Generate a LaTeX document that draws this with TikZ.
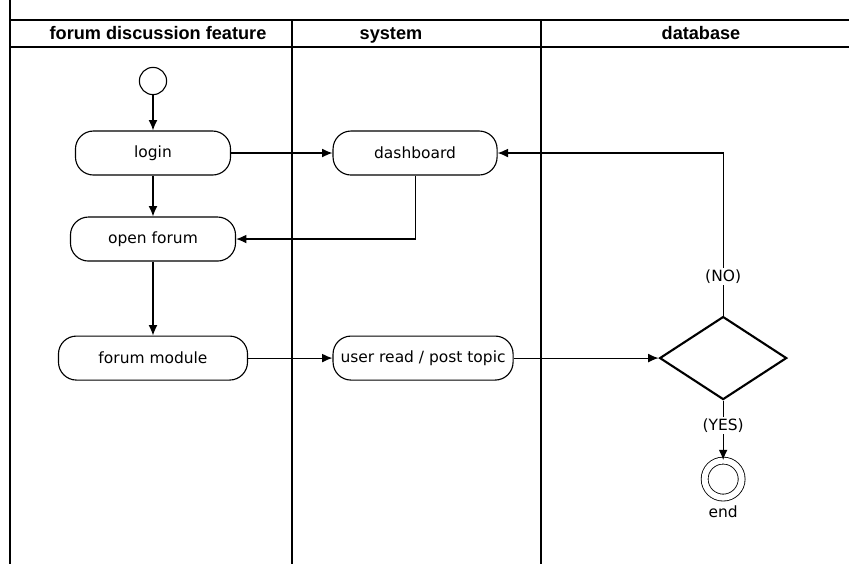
\documentclass[tikz,border=0pt]{standalone}
\usepackage{fontspec}
\setmainfont{DejaVu Sans}
\newfontfamily\headfont{Liberation Sans}
\usetikzlibrary{positioning,shapes.geometric,arrows.meta}

\begin{document}
\begin{tikzpicture} [x=0.025cm, y=-0.025cm, line width=0.8pt,
                    >={Latex[length=2.6mm,width=2.2mm]},
                    activity/.style={draw,rounded corners=0.45cm,minimum height=1.1cm,
                                     inner xsep=2pt,font=\fontsize{11}{13}\selectfont},
                    lanehead/.style={anchor=base,font=\headfont\bfseries\fontsize{12.9}{15}\selectfont},
                    flow/.style={->},
                    guard/.style={fill=white,inner sep=1pt,font=\fontsize{11}{13}\selectfont}]

\useasboundingbox (0,0) rectangle (849,564);

% swimlanes
\draw[line width=1.4pt] (10,0) -- (10,564);
\draw (10,20) -- (849,20);
\draw (10,47) -- (849,47);
\draw (292,20) -- (292,564);
\draw (541,20) -- (541,564);

\node[lanehead] (lane1) at (158,39.5) {forum discussion feature};
\node[lanehead] (lane2) at (391,39.5) {system};
\node[lanehead] (lane3) at (701,39.5) {database};

% activities
\node[circle,draw,minimum size=0.68cm,inner sep=0pt] (start) at (153,81) {};
\node[activity,minimum width=3.875cm] (login) [below of=start, node distance=1.8cm] {login};
\node[activity,minimum width=4.125cm] (openforum) [below of=login, node distance=2.15cm] {open forum};
\node[activity,minimum width=4.725cm] (forummodule) [below of=openforum, node distance=2.975cm] {forum module};
\node[activity,minimum width=4.1cm] (dashboard) [right of=login, node distance=6.55cm] {dashboard};
\node[activity,minimum width=4.5cm] (userread) [right of=forummodule, node distance=6.75cm] {user read / post topic};
\node[diamond,draw,line width=1.5pt,minimum width=3.175cm,minimum height=2.075cm,
      inner sep=0pt] (decision) [right of=userread, node distance=7.5cm] {};
\node[circle,draw,double,double distance=0.15cm,line width=0.6pt,minimum size=0.925cm,
      inner sep=0pt,label={[font=\fontsize{11}{13}\selectfont,label distance=2pt]below:end}] (end)
      [below of=decision, node distance=3.025cm] {};

 \path[flow]
    (start) edge (login)
    (login) edge (openforum)
    (openforum) edge (forummodule)
    (login) edge (dashboard)
    (forummodule) edge (userread)
    (userread) edge (decision)
    (decision) edge node[guard,pos=0.42] {(YES)} (end);

\draw[flow] (dashboard.south) |- (openforum.east);
\draw[flow] (decision.north) |- node[guard,pos=0.12] {(NO)} (dashboard.east);
\end{tikzpicture}
\end{document}
